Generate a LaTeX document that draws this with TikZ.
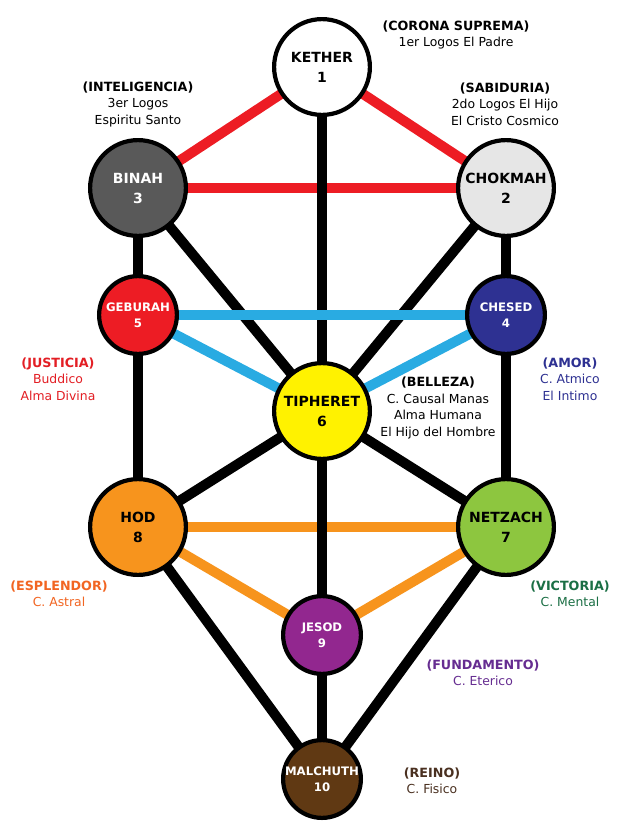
\documentclass[tikz,border=0pt]{standalone}
\usepackage{fontspec}
\setmainfont{DejaVu Sans}
\usetikzlibrary{backgrounds}
\definecolor{lred}{HTML}{ED1C24}
\definecolor{lblue}{HTML}{29ABE2}
\definecolor{lorange}{HTML}{F7941D}
\definecolor{cbinah}{HTML}{595959}
\definecolor{cchokmah}{HTML}{E6E6E6}
\definecolor{cgeburah}{HTML}{ED1C24}
\definecolor{cchesed}{HTML}{2E3192}
\definecolor{ctipheret}{HTML}{FFF200}
\definecolor{chod}{HTML}{F7941D}
\definecolor{cnetzach}{HTML}{8DC63F}
\definecolor{cjesod}{HTML}{92278F}
\definecolor{cmalchuth}{HTML}{603913}
\definecolor{tjust}{HTML}{E31E24}
\definecolor{tamor}{HTML}{2E3192}
\definecolor{tespl}{HTML}{F26522}
\definecolor{tvict}{HTML}{1B6F45}
\definecolor{tfund}{HTML}{662D91}
\definecolor{treino}{HTML}{4A3020}
\newcommand{\hdfont}{\bfseries\fontsize{12.7}{16.5}\selectfont}
\begin{document}
\begin{tikzpicture}[x=1pt,y=-1pt,
  sef/.style={circle, draw=black, line width=4.2pt, inner sep=0pt, align=center},
  big/.style={sef, minimum size=95.8pt, font=\bfseries\fontsize{14}{20}\selectfont},
  small/.style={sef, minimum size=77.8pt, font=\bfseries\fontsize{11.7}{16}\selectfont},
  blk/.style={line width=10pt, draw=black},
  redl/.style={line width=10pt, draw=lred},
  bluel/.style={line width=10pt, draw=lblue},
  orgl/.style={line width=10pt, draw=lorange},
  lab/.style={align=center, inner sep=0pt, font=\fontsize{12.4}{16.5}\selectfont}
]
\useasboundingbox (0,0) rectangle (632,828);

% sephiroth
\node[big, fill=white] (kether) at (322,67) {KETHER\\1};
\node[big, fill=cbinah, text=white] (binah) at (138,188) {BINAH\\3};
\node[big, fill=cchokmah] (chokmah) at (506,188) {CHOKMAH\\2};
\node[small, fill=cgeburah, text=white] (geburah) at (138,315) {GEBURAH\\5};
\node[small, fill=cchesed, text=white] (chesed) at (506,315) {CHESED\\4};
\node[big, fill=ctipheret] (tipheret) at (322,411) {TIPHERET\\6};
\node[big, fill=chod] (hod) at (138,527) {HOD\\8};
\node[big, fill=cnetzach] (netzach) at (506,527) {NETZACH\\7};
\node[small, fill=cjesod, text=white] (jesod) at (322,635) {JESOD\\9};
\node[small, fill=cmalchuth, text=white] (malchuth) at (322,779) {MALCHUTH\\10};

% paths
\begin{scope}[on background layer]
\fill[white] (0,0) rectangle (632,828);
\draw[redl] (kether.center) -- (binah.center);
\draw[redl] (kether.center) -- (chokmah.center);
\draw[redl] (binah.center) -- (chokmah.center);
\draw[blk] (kether.center) -- (tipheret.center);
\draw[blk] (binah.center) -- (geburah.center);
\draw[blk] (chokmah.center) -- (chesed.center);
\draw[blk] (binah.center) -- (tipheret.center);
\draw[blk] (chokmah.center) -- (tipheret.center);
\draw[bluel] (geburah.center) -- (chesed.center);
\draw[bluel] (geburah.center) -- (tipheret.center);
\draw[bluel] (chesed.center) -- (tipheret.center);
\draw[blk] (geburah.center) -- (hod.center);
\draw[blk] (chesed.center) -- (netzach.center);
\draw[blk] (tipheret.center) -- (hod.center);
\draw[blk] (tipheret.center) -- (netzach.center);
\draw[orgl] (hod.center) -- (netzach.center);
\draw[orgl] (hod.center) -- (jesod.center);
\draw[orgl] (netzach.center) -- (jesod.center);
\draw[blk] (tipheret.center) -- (jesod.center);
\draw[blk] (hod.center) -- (malchuth.center);
\draw[blk] (netzach.center) -- (malchuth.center);
\draw[blk] (jesod.center) -- (malchuth.center);
\end{scope}

% labels
\node[lab] (lcorona) at (456,35) {{\hdfont (CORONA SUPREMA)}\\1er Logos El Padre};
\node[lab] (lintel) at (138,104) {{\hdfont (INTELIGENCIA)}\\3er Logos\\Espiritu Santo};
\node[lab] (lsabid) at (505,104) {{\hdfont (SABIDURIA)}\\2do Logos El Hijo\\El Cristo Cosmico};
\node[lab, text=tjust] (ljust) at (58,379) {{\hdfont (JUSTICIA)}\\Buddico\\Alma Divina};
\node[lab, text=tamor] (lamor) at (570,379) {{\hdfont (AMOR)}\\C. Atmico\\El Intimo};
\node[lab] (lbell) at (438,408) {{\hdfont (BELLEZA)}\\C. Causal Manas\\Alma Humana\\El Hijo del Hombre};
\node[lab, text=tespl] (lespl) at (59,594) {{\hdfont (ESPLENDOR)}\\C. Astral};
\node[lab, text=tvict] (lvict) at (570,594) {{\hdfont (VICTORIA)}\\C. Mental};
\node[lab, text=tfund] (lfund) at (483,673) {{\hdfont (FUNDAMENTO)}\\C. Eterico};
\node[lab, text=treino] (lreino) at (432,781) {{\hdfont (REINO)}\\C. Fisico};
\end{tikzpicture}
\end{document}
